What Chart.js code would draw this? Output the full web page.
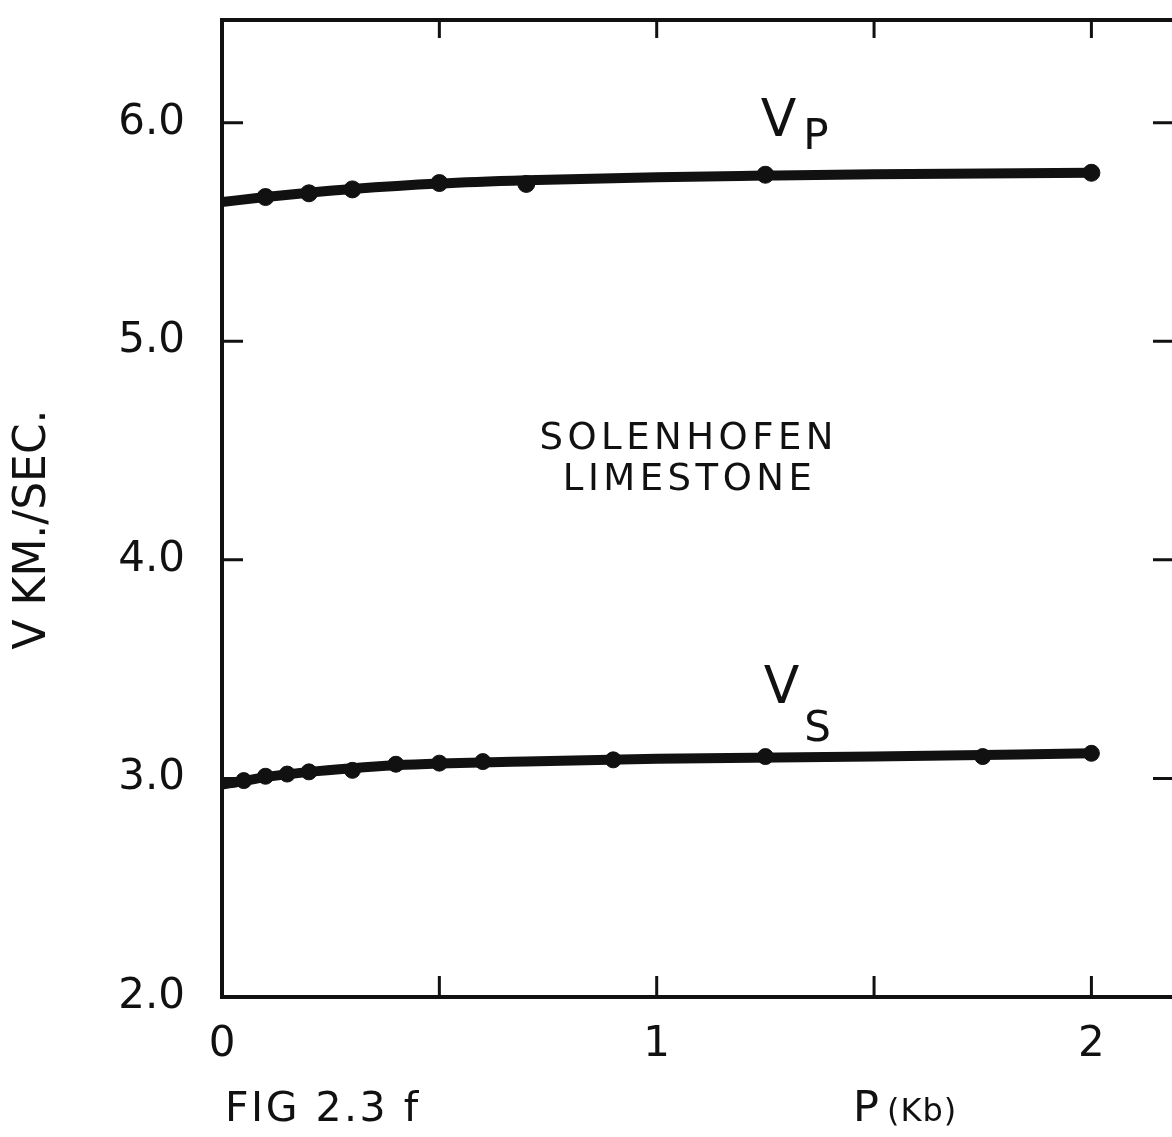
<!DOCTYPE html>
<html>
<head>
<meta charset="utf-8">
<title>Solenhofen limestone - V vs P</title>
<script src="https://cdn.jsdelivr.net/npm/chart.js@4.4.1/dist/chart.umd.min.js"></script>
<style>
  html, body { margin: 0; padding: 0; background: #fff; overflow: hidden; }
  #wrap { width: 1190px; height: 1137px; }
</style>
</head>
<body>
<div id="wrap"><canvas id="chart" width="1190" height="1137"></canvas></div>
<script>
const xTicks = [0, 0.5, 1, 1.5, 2];
const xTickLabels = ["0", "", "1", "", "2"];
const yTicks = [2, 3, 4, 5, 6];
const yTickLabels = ["2.0", "3.0", "4.0", "5.0", "6.0"];

// measured points (P in Kb, V in km/sec)
const vpPress = [0.1, 0.2, 0.3, 0.5, 0.7, 1.25, 2.0];
const vpVel = [5.66, 5.677, 5.695, 5.724, 5.72, 5.762, 5.771];
const vsPress = [0.05, 0.1, 0.15, 0.2, 0.3, 0.4, 0.5, 0.6, 0.9, 1.25, 1.75, 2.0];
const vsVel = [2.99, 3.01, 3.02, 3.03, 3.037, 3.065, 3.07, 3.077, 3.085, 3.1, 3.1, 3.115];

// hand drawn curves through the points
const vpCurvePress = [0, 0.1, 0.2, 0.3, 0.5, 0.7, 1.0, 1.25, 1.5, 2.0];
const vpCurveVel = [5.637, 5.66, 5.68, 5.697, 5.722, 5.737, 5.751, 5.758, 5.764, 5.771];
const vsCurvePress = [0, 0.05, 0.1, 0.2, 0.3, 0.4, 0.5, 0.7, 1.0, 1.5, 2.0];
const vsCurveVel = [2.972, 2.988, 3.006, 3.03, 3.047, 3.06, 3.068, 3.078, 3.09, 3.1, 3.115];

const ink = "#111";
const family = "'DejaVu Sans', 'Liberation Sans', sans-serif";

const pts = (xs, ys) => xs.map((x, i) => ({ x, y: ys[i] }));

function text(ctx, str, x, y, size, align, spacing) {
  ctx.font = size + "px " + family;
  ctx.letterSpacing = (spacing || 0) + "px";
  ctx.textAlign = align || "center";
  ctx.textBaseline = "middle";
  ctx.fillText(str, x, y);
}

// frame with inward ticks, plus the lettering on the figure
const frame = {
  id: "frame",
  afterDraw(chart) {
    const { ctx, chartArea: a, scales: { x, y } } = chart;
    ctx.save();
    ctx.strokeStyle = ink;
    ctx.fillStyle = ink;
    ctx.lineWidth = 4;
    ctx.strokeRect(a.left, a.top, a.right - a.left, a.bottom - a.top);

    ctx.lineWidth = 3;
    ctx.beginPath();
    xTicks.filter(v => v > 0).forEach(v => {
      const px = x.getPixelForValue(v);
      ctx.moveTo(px, a.bottom); ctx.lineTo(px, a.bottom - 21);
      ctx.moveTo(px, a.top); ctx.lineTo(px, a.top + 18);
    });
    yTicks.filter(v => v > 2).forEach(v => {
      const py = y.getPixelForValue(v);
      ctx.moveTo(a.left, py); ctx.lineTo(a.left + 21, py);
      ctx.moveTo(a.right, py); ctx.lineTo(a.right - 21, py);
    });
    ctx.stroke();

    const X = v => x.getPixelForValue(v);
    const Y = v => y.getPixelForValue(v);
    text(ctx, "V", X(1.28), Y(6.0), 52);
    text(ctx, "P", X(1.366), Y(5.93), 42);
    text(ctx, "V", X(1.287), Y(3.405), 52);
    text(ctx, "S", X(1.37), Y(3.22), 42);
    text(ctx, "SOLENHOFEN", X(1.069) + 2, Y(4.553), 37, "center", 4.5);
    text(ctx, "LIMESTONE", X(1.071) + 2, Y(4.363), 37, "center", 4.5);

    text(ctx, "FIG 2.3 f", 225, 1110, 41, "left", 2.5);
    text(ctx, "P", 853, 1110, 43, "left");
    text(ctx, "(Kb)", 887, 1113, 32, "left", 1);
    ctx.restore();
  }
};

new Chart(document.getElementById("chart"), {
  type: "scatter",
  data: {
    datasets: [
      {
        label: "Vp curve",
        data: pts(vpCurvePress, vpCurveVel),
        showLine: true,
        borderColor: ink,
        borderWidth: 10,
        pointRadius: 0,
        cubicInterpolationMode: "monotone"
      },
      {
        label: "Vp",
        data: pts(vpPress, vpVel),
        pointRadius: 8.5,
        pointBackgroundColor: ink,
        pointBorderColor: ink
      },
      {
        label: "Vs curve",
        data: pts(vsCurvePress, vsCurveVel),
        showLine: true,
        borderColor: ink,
        borderWidth: 10,
        pointRadius: 0,
        cubicInterpolationMode: "monotone"
      },
      {
        label: "Vs",
        data: pts(vsPress, vsVel),
        pointRadius: 8,
        pointBackgroundColor: ink,
        pointBorderColor: ink
      }
    ]
  },
  options: {
    responsive: false,
    animation: false,
    layout: { padding: { top: 20, right: 16, left: 0, bottom: 0 } },
    plugins: { legend: { display: false }, tooltip: { enabled: false } },
    scales: {
      x: {
        type: "linear",
        min: 0,
        max: 2.19,
        afterFit: s => { s.height = 140; s.paddingLeft = 0; s.paddingRight = 0; },
        afterBuildTicks: s => { s.ticks = xTicks.map(v => ({ value: v })); },
        ticks: {
          callback: v => xTickLabels[xTicks.indexOf(v)],
          font: { family, size: 42 },
          color: ink,
          padding: 23,
          autoSkip: false,
          maxRotation: 0
        },
        grid: { display: false, drawTicks: false },
        border: { display: false }
      },
      y: {
        min: 2,
        max: 6.47,
        afterFit: s => { s.width = 222; s.paddingTop = 0; s.paddingBottom = 0; },
        afterBuildTicks: s => { s.ticks = yTicks.map(v => ({ value: v })); },
        ticks: {
          callback: v => yTickLabels[yTicks.indexOf(v)],
          font: { family, size: 42 },
          color: ink,
          padding: 37
        },
        grid: { display: false, drawTicks: false },
        border: { display: false },
        title: {
          display: true,
          text: "V KM./SEC.   ",
          font: { family, size: 44 },
          color: ink,
          padding: { top: 7, bottom: 0 }
        }
      }
    }
  },
  plugins: [frame]
});
</script>
</body>
</html>
